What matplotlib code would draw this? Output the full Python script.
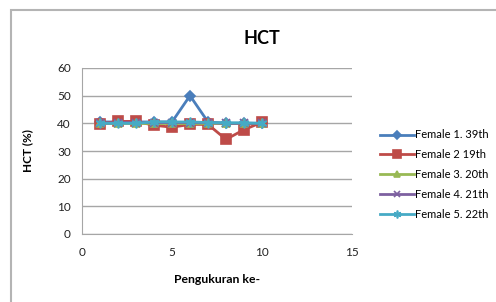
import matplotlib
matplotlib.use('Agg')
import matplotlib.pyplot as plt
from matplotlib.patches import Rectangle

plt.rcParams['font.family'] = ['Lato', 'DejaVu Sans']

# measurement index
pengukuran = [1, 2, 3, 4, 5, 6, 7, 8, 9, 10]

# HCT (%) per subject
female_1 = [40.5, 40.5, 40.5, 40.5, 40.5, 50, 40.5, 40, 40, 40]
female_2 = [39.8, 40.7, 40.7, 39.3, 38.6, 39.6, 39.6, 34.2, 37.7, 40.4]
female_3 = [40, 40, 40, 40, 40, 40, 40, 40, 40, 40]
female_4 = [40, 40.3, 40.3, 40.2, 40.3, 40.3, 40.2, 40, 40, 40]
female_5 = [40, 40, 40, 40.5, 40.5, 40.5, 40.3, 40.2, 40.2, 40]

labels = ['Female 1. 39th', 'Female 2 19th', 'Female 3. 20th',
          'Female 4. 21th', 'Female 5. 22th']
series = [female_1, female_2, female_3, female_4, female_5]
colors = ['#4a7ebb', '#be4b48', '#98b954', '#7d60a0', '#46aac5']
markers = ['D', 's', '^', 'x', (6, 2, 0)]
msizes = [5, 6.5, 6, 6, 7]

fig = plt.figure(figsize=(4.96, 3.02), dpi=100)

# outer chart frame, open to the right and bottom like the screenshot
fig.patches.append(Rectangle((11 / 496, -0.1), 1.2, 1.1 - 10 / 302,
                             transform=fig.transFigure, fill=False,
                             edgecolor='#b4b4b4', linewidth=1.5))

ax = fig.add_axes([82 / 496, 1 - 234 / 302, 270 / 496, 166 / 302])

lines = []
for vals, lab, col, mk, ms in zip(series, labels, colors, markers, msizes):
    ln, = ax.plot(pengukuran, vals, color=col, marker=mk, markersize=ms,
                  linewidth=2, markeredgewidth=1.2, label=lab)
    lines.append(ln)

ax.set_xlim(0, 15)
ax.set_ylim(0, 60)
ax.set_xticks([0, 5, 10, 15])
ax.set_yticks(range(0, 61, 10))
ax.grid(axis='y', color='#a6a6a6', linewidth=1)
ax.set_axisbelow(True)
for side in ['top', 'right']:
    ax.spines[side].set_visible(False)
for side in ['left', 'bottom']:
    ax.spines[side].set_color('#a6a6a6')
ax.tick_params(length=0, labelsize=8.5, colors='#222222', pad=8)
ax.tick_params(axis='x', pad=9)

fig.text(262 / 496, 1 - 38 / 302, 'HCT', fontsize=13, fontweight='bold',
         ha='center', va='center')
ax.set_ylabel('HCT (%)', fontsize=8.5, fontweight='bold', labelpad=17)
ax.set_xlabel('Pengukuran ke-', fontsize=8.8, fontweight='bold', labelpad=12)

fig.legend(handles=lines, loc='upper left', bbox_to_anchor=(376 / 496, 1 - 125 / 302),
           frameon=False, fontsize=8, handlelength=3.0, handletextpad=0.1,
           labelspacing=0.8, borderaxespad=0, markerscale=0.8)

fig.savefig('out.png', dpi=100)
